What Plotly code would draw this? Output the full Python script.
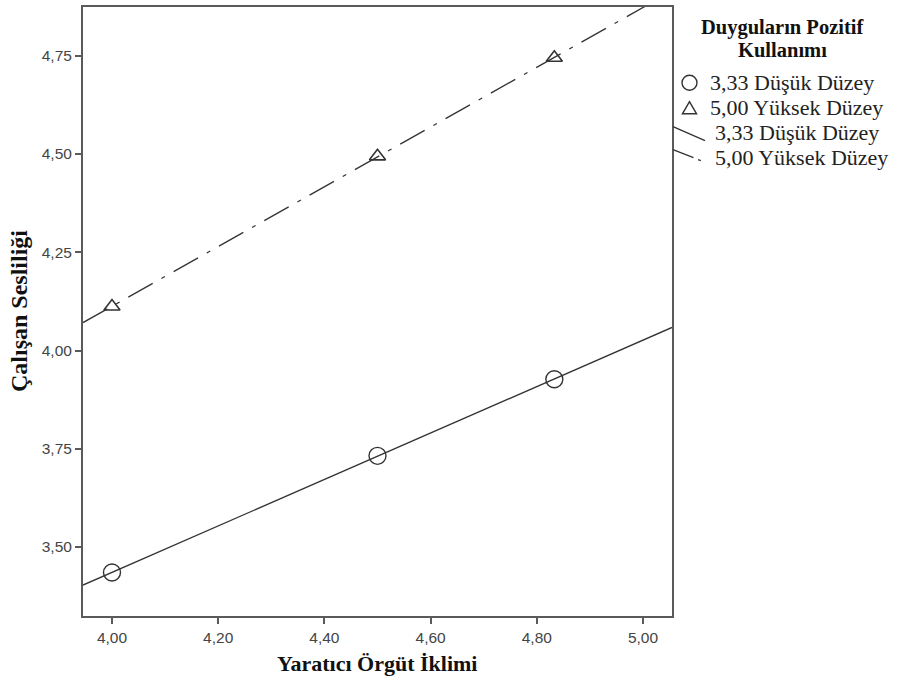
import numpy as np
import plotly.graph_objects as go

# ---- data ----
x_levels = [4.00, 4.50, 4.833]
low_values = [3.435, 3.732, 3.927]     # 3,33 Düşük Düzey
high_values = [4.112, 4.494, 4.745]    # 5,00 Yüksek Düzey
x_ticks = [4.0, 4.2, 4.4, 4.6, 4.8, 5.0]
x_tick_labels = ["4,00", "4,20", "4,40", "4,60", "4,80", "5,00"]
y_ticks = [3.5, 3.75, 4.0, 4.25, 4.5, 4.75]
y_tick_labels = ["3,50", "3,75", "4,00", "4,25", "4,50", "4,75"]
x_title = "Yaratıcı Örgüt İklimi"
y_title = "Çalışan Sesliliği"
legend_title_lines = ["Duyguların Pozitif", "Kullanımı"]
legend_labels = ["3,33 Düşük Düzey", "5,00 Yüksek Düzey", "3,33 Düşük Düzey", "5,00 Yüksek Düzey"]

# ---- layout geometry ----
W, H = 898, 683
L, R, T, B = 83, 226, 5, 67
x_range = [3.9454, 5.0546]
y_range = [3.3245, 4.874]
INK = "#333333"
FRAME = "#5a5a5a"
SERIF = "Liberation Serif, Times New Roman, serif"
SANS = "Liberation Sans, Arial, sans-serif"


def px(xp):
    return (xp - L) / (W - L - R)


def py(yp):
    return (H - B - yp) / (H - T - B)


fig = go.Figure()

# fit lines (linear regression through each group's points)
for vals, dash in [(low_values, "solid"), (high_values, "28px,10px,4px,10px")]:
    slope, icpt = np.polyfit(x_levels, vals, 1)
    xs = np.array(x_range)
    fig.add_trace(go.Scatter(x=xs, y=slope * xs + icpt, mode="lines",
                             line=dict(color=INK, width=1.3, dash=dash),
                             showlegend=False, hoverinfo="skip"))

fig.add_trace(go.Scatter(x=x_levels, y=low_values, mode="markers",
                         marker=dict(symbol="circle-open", size=17, color=INK,
                                     line=dict(width=1.4, color=INK)),
                         showlegend=False))
fig.add_trace(go.Scatter(x=x_levels, y=high_values, mode="markers",
                         marker=dict(symbol="triangle-up-open", size=14, color=INK,
                                     line=dict(width=1.6, color=INK)),
                         showlegend=False))

axis_common = dict(showgrid=False, zeroline=False, showline=True, linecolor=FRAME,
                   linewidth=2, mirror=True, ticks="outside", ticklen=6, tickwidth=2,
                   tickcolor=FRAME, tickfont=dict(family=SANS, size=15.5, color="#444444"))
fig.update_xaxes(range=x_range, tickvals=x_ticks, ticktext=x_tick_labels, **axis_common)
fig.update_yaxes(range=y_range, tickvals=y_ticks, ticktext=y_tick_labels, **axis_common)

annotations = [
    dict(text="<b>%s</b>" % x_title, x=px(377), y=py(664), xref="paper", yref="paper",
         showarrow=False, font=dict(family=SERIF, size=22, color="#111111"),
         xanchor="center", yanchor="middle"),
    dict(text="<b>%s</b>" % y_title, x=px(19), y=py(310), xref="paper", yref="paper",
         showarrow=False, textangle=-90, font=dict(family=SERIF, size=24, color="#111111"),
         xanchor="center", yanchor="middle"),
]
for line_txt, ly in zip(legend_title_lines, [26, 48]):
    annotations.append(dict(text="<b>%s</b>" % line_txt, x=px(783), y=py(ly), xref="paper",
                            yref="paper", showarrow=False,
                            font=dict(family=SERIF, size=20.5, color="#111111"),
                            xanchor="center", yanchor="middle"))
rows = [81, 106, 131, 156]
starts = [708, 708, 713, 713]
for lab, ry, sx in zip(legend_labels, rows, starts):
    annotations.append(dict(text=lab, x=px(sx), y=py(ry), xref="paper", yref="paper",
                            showarrow=False, font=dict(family=SERIF, size=22, color="#222222"),
                            xanchor="left", yanchor="middle"))

shapes = [
    dict(type="circle", xref="paper", yref="paper", x0=px(682), x1=px(697),
         y0=py(73.5), y1=py(88.5), line=dict(color=INK, width=1.4)),
    dict(type="path", xref="paper", yref="paper",
         path="M %f,%f L %f,%f L %f,%f Z" % (px(682.5), py(112), px(696.5), py(112), px(689.5), py(100)),
         line=dict(color=INK, width=1.5)),
    dict(type="line", xref="paper", yref="paper", x0=px(673), y0=py(125), x1=px(705), y1=py(139),
         line=dict(color=INK, width=1.3)),
    dict(type="line", xref="paper", yref="paper", x0=px(673), y0=py(148), x1=px(703), y1=py(160),
         line=dict(color=INK, width=1.3, dash="22px,5px,3px,10px")),
]

fig.update_layout(width=W, height=H, margin=dict(l=L, r=R, t=T, b=B),
                  plot_bgcolor="white", paper_bgcolor="white",
                  annotations=annotations, shapes=shapes, showlegend=False)

fig.write_html("out.html", config={"displayModeBar": False},
               post_script="document.body.style.margin='0px';")
